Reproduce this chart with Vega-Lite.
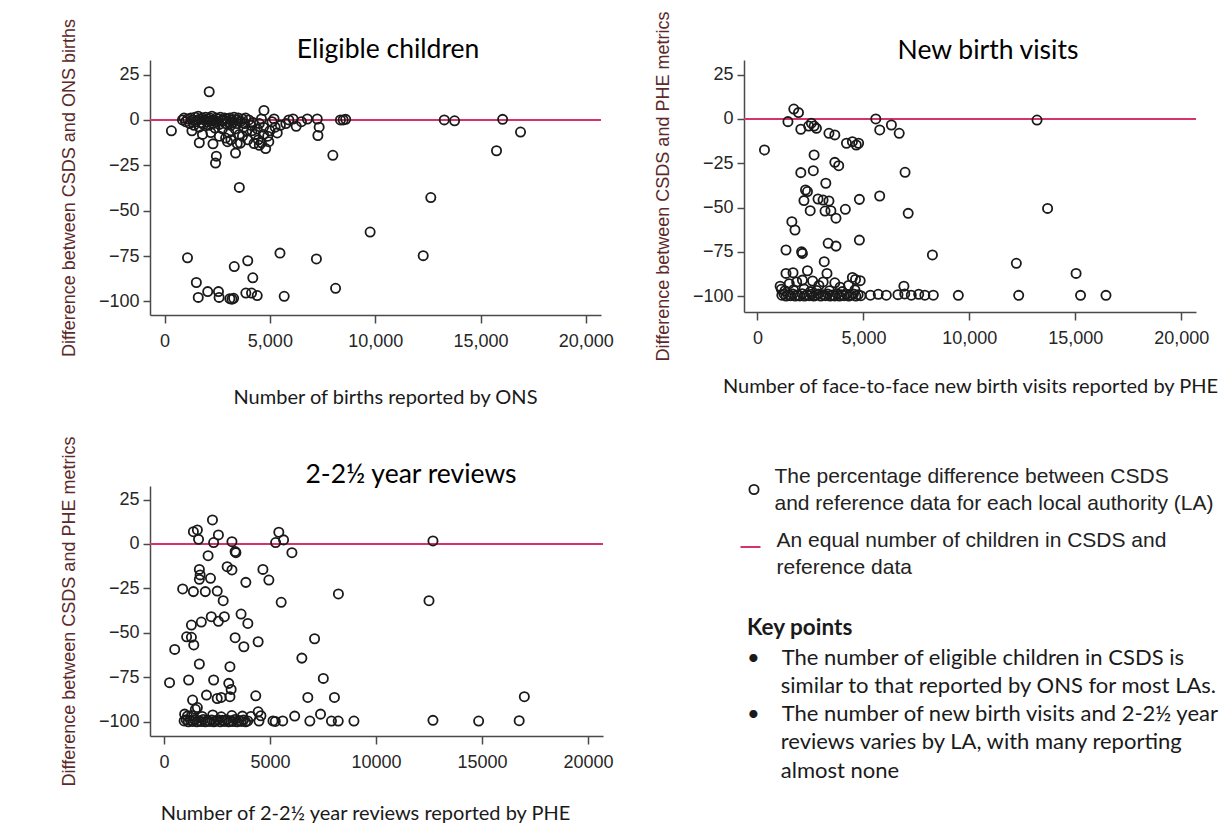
{
  "$schema": "https://vega.github.io/schema/vega-lite/v6.json",
  "background": "white",
  "padding": {"left": 60, "top": 11, "right": 0, "bottom": 0},
  "columns": 2,
  "spacing": {"column": 141, "row": 171},
  "bounds": "flush",
  "config": {
    "view": {"stroke": null},
    "style": {"guide-label": {"lineHeight": 27}},
    "axis": {"grid": false, "domainColor": "#4a4a4a", "domainWidth": 1.5, "tickColor": "#4a4a4a", "tickWidth": 1.5, "labelFont": "Liberation Sans", "labelFontSize": 18, "labelColor": "#262626"},
    "axisX": {"tickSize": 8, "labelPadding": 9, "titleFont": "Lato", "titleFontSize": 20, "titleFontWeight": "normal", "titleColor": "#1a1a1a", "titlePadding": 37},
    "axisY": {"tickSize": 7, "labelPadding": 4, "titleFont": "Liberation Sans", "titleFontSize": 18, "titleFontWeight": "normal", "titleColor": "#5c2a2a", "titlePadding": 20},
    "title": {"font": "Lato", "fontSize": 26.5, "fontWeight": "normal", "color": "#000000", "frame": "group"}
  },
  "datasets": {
    "eligible": [
      {"births": 326, "diff": -6}, {"births": 2120, "diff": 15.5}, {"births": 925, "diff": 1}, {"births": 1650, "diff": -12.6}, {"births": 2300, "diff": -13.2}, {"births": 2460, "diff": -20}, {"births": 2420, "diff": -23.8}, {"births": 2990, "diff": -12}, {"births": 3370, "diff": -18.3}, {"births": 3550, "diff": -37.2}, {"births": 3600, "diff": -12.8}, {"births": 4720, "diff": 5.2}, {"births": 4800, "diff": -15.8}, {"births": 4450, "diff": -11}, {"births": 4600, "diff": -12.6}, {"births": 5350, "diff": -7.2}, {"births": 5760, "diff": -2}, {"births": 6250, "diff": -3.5}, {"births": 6780, "diff": 0.5}, {"births": 7250, "diff": 0.5}, {"births": 7340, "diff": -4}, {"births": 7280, "diff": -8.6}, {"births": 7990, "diff": -19.5}, {"births": 8350, "diff": 0}, {"births": 8480, "diff": 0}, {"births": 8600, "diff": 0.3}, {"births": 9760, "diff": -61.8}, {"births": 12640, "diff": -42.8}, {"births": 12280, "diff": -74.8}, {"births": 13280, "diff": 0}, {"births": 13770, "diff": -0.5}, {"births": 16050, "diff": 0.3}, {"births": 15760, "diff": -17}, {"births": 16900, "diff": -6.7},
      {"births": 1090, "diff": -76}, {"births": 1510, "diff": -89.6}, {"births": 1600, "diff": -97.8}, {"births": 2050, "diff": -94.6}, {"births": 2560, "diff": -94.6}, {"births": 2590, "diff": -97.8}, {"births": 3100, "diff": -98.5}, {"births": 3200, "diff": -98.8}, {"births": 3280, "diff": -98.3}, {"births": 3310, "diff": -80.8}, {"births": 3950, "diff": -77.6}, {"births": 3860, "diff": -95.4}, {"births": 4130, "diff": -95.4}, {"births": 4190, "diff": -87}, {"births": 4400, "diff": -96.8}, {"births": 5480, "diff": -73.4}, {"births": 5680, "diff": -97.2}, {"births": 7210, "diff": -76.6}, {"births": 8120, "diff": -92.8},
      {"births": 850, "diff": 0}, {"births": 1000, "diff": -1}, {"births": 1100, "diff": 0.5}, {"births": 1200, "diff": -2}, {"births": 1250, "diff": 1}, {"births": 1350, "diff": 0}, {"births": 1400, "diff": -3}, {"births": 1450, "diff": 1.5}, {"births": 1500, "diff": -1}, {"births": 1550, "diff": 0}, {"births": 1600, "diff": 2}, {"births": 1650, "diff": -4}, {"births": 1700, "diff": 0.5}, {"births": 1750, "diff": -1.5}, {"births": 1800, "diff": 1}, {"births": 1850, "diff": -2.5}, {"births": 1900, "diff": 0}, {"births": 1950, "diff": 1.5}, {"births": 2000, "diff": -1}, {"births": 2050, "diff": 0.5}, {"births": 2100, "diff": -3}, {"births": 2150, "diff": 1}, {"births": 2200, "diff": -0.5}, {"births": 2250, "diff": 2}, {"births": 2300, "diff": -2}, {"births": 2350, "diff": 0}, {"births": 2400, "diff": -4.5}, {"births": 2450, "diff": 1}, {"births": 2500, "diff": -1}, {"births": 2550, "diff": 0.5}, {"births": 2600, "diff": -2.5}, {"births": 2650, "diff": 1.5}, {"births": 2700, "diff": -0.5}, {"births": 2750, "diff": -5}, {"births": 2800, "diff": 0}, {"births": 2850, "diff": 1}, {"births": 2900, "diff": -2}, {"births": 2950, "diff": 0.5}, {"births": 3000, "diff": -1}, {"births": 3050, "diff": -7}, {"births": 3100, "diff": 1}, {"births": 3150, "diff": -3}, {"births": 3200, "diff": 0}, {"births": 3250, "diff": -1.5}, {"births": 3300, "diff": 1.5}, {"births": 3350, "diff": -5}, {"births": 3400, "diff": 0}, {"births": 3450, "diff": -2}, {"births": 3500, "diff": 1}, {"births": 3550, "diff": -8}, {"births": 3600, "diff": -1}, {"births": 3700, "diff": 0.5}, {"births": 3750, "diff": -4}, {"births": 3800, "diff": -2}, {"births": 3850, "diff": 1}, {"births": 3900, "diff": -6}, {"births": 4000, "diff": 0}, {"births": 4100, "diff": -3}, {"births": 4200, "diff": -1.5}, {"births": 4300, "diff": -8}, {"births": 4400, "diff": -5}, {"births": 4500, "diff": -2}, {"births": 4600, "diff": 0.5}, {"births": 4700, "diff": -4}, {"births": 4900, "diff": -9}, {"births": 5000, "diff": -6}, {"births": 5100, "diff": -1}, {"births": 5200, "diff": 0.5}, {"births": 5500, "diff": -3}, {"births": 5900, "diff": 0}, {"births": 6100, "diff": 0.5}, {"births": 6500, "diff": -1}, {"births": 1300, "diff": -6}, {"births": 1800, "diff": -8}, {"births": 2200, "diff": -7}, {"births": 2600, "diff": -9}, {"births": 2900, "diff": -10}, {"births": 3150, "diff": -11}, {"births": 3450, "diff": -13}, {"births": 3700, "diff": -9}, {"births": 3950, "diff": -11}, {"births": 4150, "diff": -6}, {"births": 4250, "diff": -13}, {"births": 4500, "diff": -14}, {"births": 4700, "diff": -8}, {"births": 4950, "diff": -12}, {"births": 5250, "diff": -4}
    ],
    "newbirth": [
      {"visits": 330, "diff": -17.5}, {"visits": 1714, "diff": 5.6}, {"visits": 1935, "diff": 3.6}, {"visits": 1437, "diff": -1.5}, {"visits": 2045, "diff": -5.8}, {"visits": 2543, "diff": -2.4}, {"visits": 2672, "diff": -4}, {"visits": 2783, "diff": -5.3}, {"visits": 2414, "diff": -4}, {"visits": 3372, "diff": -8.1}, {"visits": 3650, "diff": -9}, {"visits": 4200, "diff": -13.7}, {"visits": 4480, "diff": -12.8}, {"visits": 4663, "diff": -14.7}, {"visits": 4773, "diff": -13.7}, {"visits": 5584, "diff": 0}, {"visits": 5770, "diff": -6.2}, {"visits": 6321, "diff": -3.4}, {"visits": 6690, "diff": -8.1}, {"visits": 13196, "diff": -0.6}, {"visits": 2672, "diff": -20.3}, {"visits": 3650, "diff": -24.5}, {"visits": 3834, "diff": -26.4}, {"visits": 2045, "diff": -30.3}, {"visits": 2635, "diff": -29.2}, {"visits": 3225, "diff": -36.3}, {"visits": 6966, "diff": -30.1}, {"visits": 2267, "diff": -40.1}, {"visits": 2359, "diff": -41}, {"visits": 2193, "diff": -46.1}, {"visits": 2488, "diff": -51.8}, {"visits": 2857, "diff": -45.2}, {"visits": 3096, "diff": -45.8}, {"visits": 3372, "diff": -46.3}, {"visits": 3465, "diff": -51.8}, {"visits": 3188, "diff": -52}, {"visits": 3705, "diff": -56}, {"visits": 4147, "diff": -51}, {"visits": 4810, "diff": -45.4}, {"visits": 5768, "diff": -43.5}, {"visits": 7114, "diff": -53.3}, {"visits": 13694, "diff": -50.5}, {"visits": 1622, "diff": -58}, {"visits": 1769, "diff": -62.7}, {"visits": 4810, "diff": -68.4}, {"visits": 1345, "diff": -74}, {"visits": 2082, "diff": -75}, {"visits": 2119, "diff": -75.9}, {"visits": 3336, "diff": -70.2}, {"visits": 3705, "diff": -71.8}, {"visits": 3151, "diff": -80.6}, {"visits": 8257, "diff": -76.8}, {"visits": 12219, "diff": -81.5}, {"visits": 15039, "diff": -87.2},
      {"visits": 1345, "diff": -87.2}, {"visits": 1677, "diff": -86.8}, {"visits": 2359, "diff": -85.7}, {"visits": 2119, "diff": -91}, {"visits": 3280, "diff": -87.2}, {"visits": 3650, "diff": -92.5}, {"visits": 4480, "diff": -89.5}, {"visits": 4627, "diff": -90.6}, {"visits": 4847, "diff": -91.3}, {"visits": 1069, "diff": -94.4}, {"visits": 1124, "diff": -96.2}, {"visits": 6911, "diff": -94.4}, {"visits": 1500, "diff": -93}, {"visits": 1850, "diff": -92}, {"visits": 2600, "diff": -91.5}, {"visits": 2900, "diff": -94}, {"visits": 3100, "diff": -92}, {"visits": 3900, "diff": -95}, {"visits": 4300, "diff": -94}, {"visits": 1300, "diff": -97}, {"visits": 1700, "diff": -96.5}, {"visits": 2200, "diff": -96}, {"visits": 2500, "diff": -97.5}, {"visits": 2800, "diff": -96.8}, {"visits": 3400, "diff": -97}, {"visits": 4000, "diff": -97.5}, {"visits": 4600, "diff": -96.5},
      {"visits": 1150, "diff": -99.5}, {"visits": 1250, "diff": -98.8}, {"visits": 1350, "diff": -100}, {"visits": 1450, "diff": -99.2}, {"visits": 1560, "diff": -99.8}, {"visits": 1670, "diff": -98.9}, {"visits": 1780, "diff": -100}, {"visits": 1890, "diff": -99.4}, {"visits": 2000, "diff": -99.9}, {"visits": 2110, "diff": -98.7}, {"visits": 2220, "diff": -100}, {"visits": 2330, "diff": -99.3}, {"visits": 2440, "diff": -99.8}, {"visits": 2550, "diff": -99}, {"visits": 2660, "diff": -100}, {"visits": 2770, "diff": -99.5}, {"visits": 2880, "diff": -98.8}, {"visits": 2990, "diff": -100}, {"visits": 3100, "diff": -99.2}, {"visits": 3210, "diff": -99.8}, {"visits": 3320, "diff": -98.9}, {"visits": 3430, "diff": -100}, {"visits": 3540, "diff": -99.4}, {"visits": 3650, "diff": -99.9}, {"visits": 3760, "diff": -98.7}, {"visits": 3870, "diff": -100}, {"visits": 3980, "diff": -99.3}, {"visits": 4090, "diff": -99.8}, {"visits": 4200, "diff": -99}, {"visits": 4310, "diff": -100}, {"visits": 4420, "diff": -99.5}, {"visits": 4530, "diff": -98.8}, {"visits": 4640, "diff": -100}, {"visits": 4750, "diff": -99.2}, {"visits": 4880, "diff": -99.8},
      {"visits": 5330, "diff": -99.5}, {"visits": 5700, "diff": -99}, {"visits": 6080, "diff": -99.5}, {"visits": 6630, "diff": -99.2}, {"visits": 6950, "diff": -98.8}, {"visits": 7260, "diff": -99.5}, {"visits": 7610, "diff": -99}, {"visits": 7900, "diff": -99.5}, {"visits": 8300, "diff": -99.5}, {"visits": 9480, "diff": -99.6}, {"visits": 12330, "diff": -99.6}, {"visits": 15250, "diff": -99.6}, {"visits": 16450, "diff": -99.6}
    ],
    "reviews": [
      {"reviews": 2286, "diff": 13.5}, {"reviews": 1387, "diff": 6.9}, {"reviews": 1574, "diff": 7.9}, {"reviews": 1630, "diff": 2.6}, {"reviews": 2567, "diff": 5.1}, {"reviews": 2342, "diff": 0.8}, {"reviews": 3205, "diff": 1.3}, {"reviews": 3355, "diff": -4.3}, {"reviews": 3392, "diff": -4.9}, {"reviews": 2080, "diff": -6.6}, {"reviews": 5416, "diff": 6.6}, {"reviews": 5266, "diff": 0.8}, {"reviews": 5641, "diff": 2.3}, {"reviews": 6034, "diff": -4.9}, {"reviews": 12687, "diff": 1.7}, {"reviews": 1668, "diff": -14.3}, {"reviews": 1705, "diff": -17.4}, {"reviews": 1668, "diff": -19.9}, {"reviews": 2193, "diff": -19.3}, {"reviews": 2980, "diff": -12.8}, {"reviews": 3205, "diff": -14.6}, {"reviews": 3861, "diff": -21.6}, {"reviews": 4666, "diff": -14.3}, {"reviews": 4947, "diff": -20.3}, {"reviews": 881, "diff": -25.3}, {"reviews": 1387, "diff": -26.8}, {"reviews": 1949, "diff": -26.8}, {"reviews": 2511, "diff": -26.5}, {"reviews": 2792, "diff": -31.9}, {"reviews": 5528, "diff": -32.8}, {"reviews": 8227, "diff": -28.1}, {"reviews": 12500, "diff": -31.9}, {"reviews": 1293, "diff": -45.6}, {"reviews": 1761, "diff": -43.9}, {"reviews": 2230, "diff": -40.9}, {"reviews": 2567, "diff": -43.5}, {"reviews": 2848, "diff": -40.9}, {"reviews": 3636, "diff": -39.4}, {"reviews": 3955, "diff": -44.7}, {"reviews": 1068, "diff": -52.2}, {"reviews": 1293, "diff": -52.5}, {"reviews": 1405, "diff": -56.8}, {"reviews": 3355, "diff": -52.7}, {"reviews": 3767, "diff": -57.8}, {"reviews": 4441, "diff": -55}, {"reviews": 506, "diff": -59.3}, {"reviews": 7103, "diff": -53.3}, {"reviews": 6503, "diff": -64.2}, {"reviews": 1668, "diff": -67.5}, {"reviews": 3111, "diff": -69}, {"reviews": 262, "diff": -78}, {"reviews": 1162, "diff": -76.5}, {"reviews": 2342, "diff": -76.5}, {"reviews": 3055, "diff": -78.4}, {"reviews": 3167, "diff": -81.8}, {"reviews": 3111, "diff": -85.9}, {"reviews": 7515, "diff": -75.6}, {"reviews": 1349, "diff": -87.8}, {"reviews": 2005, "diff": -85}, {"reviews": 2511, "diff": -86.9}, {"reviews": 2699, "diff": -86.3}, {"reviews": 4329, "diff": -85.4}, {"reviews": 6784, "diff": -86.3}, {"reviews": 8040, "diff": -86.3}, {"reviews": 16997, "diff": -85.9}, {"reviews": 1574, "diff": -92}, {"reviews": 1480, "diff": -93}, {"reviews": 974, "diff": -95.7}, {"reviews": 1105, "diff": -96.8}, {"reviews": 6165, "diff": -96.8}, {"reviews": 7384, "diff": -95.7}, {"reviews": 4441, "diff": -94.4}, {"reviews": 4573, "diff": -96.6},
      {"reviews": 1300, "diff": -96.5}, {"reviews": 1800, "diff": -97}, {"reviews": 2300, "diff": -96.2}, {"reviews": 2700, "diff": -97.2}, {"reviews": 3200, "diff": -96.5}, {"reviews": 3700, "diff": -96.8}, {"reviews": 4100, "diff": -97},
      {"reviews": 950, "diff": -99.5}, {"reviews": 1050, "diff": -98.8}, {"reviews": 1150, "diff": -100}, {"reviews": 1250, "diff": -99.2}, {"reviews": 1350, "diff": -99.8}, {"reviews": 1450, "diff": -98.9}, {"reviews": 1550, "diff": -100}, {"reviews": 1650, "diff": -99.4}, {"reviews": 1750, "diff": -99.9}, {"reviews": 1850, "diff": -98.7}, {"reviews": 1950, "diff": -100}, {"reviews": 2050, "diff": -99.3}, {"reviews": 2150, "diff": -99.8}, {"reviews": 2250, "diff": -99}, {"reviews": 2350, "diff": -100}, {"reviews": 2450, "diff": -99.5}, {"reviews": 2550, "diff": -98.8}, {"reviews": 2650, "diff": -100}, {"reviews": 2750, "diff": -99.2}, {"reviews": 2850, "diff": -99.8}, {"reviews": 2950, "diff": -98.9}, {"reviews": 3050, "diff": -100}, {"reviews": 3150, "diff": -99.4}, {"reviews": 3250, "diff": -99.9}, {"reviews": 3350, "diff": -98.7}, {"reviews": 3450, "diff": -100}, {"reviews": 3550, "diff": -99.3}, {"reviews": 3650, "diff": -99.8}, {"reviews": 3750, "diff": -99}, {"reviews": 3850, "diff": -100}, {"reviews": 3950, "diff": -99.5}, {"reviews": 4480, "diff": -99.6}, {"reviews": 5140, "diff": -99.5}, {"reviews": 5250, "diff": -99.8}, {"reviews": 5600, "diff": -99.5}, {"reviews": 6880, "diff": -99.6}, {"reviews": 7900, "diff": -99.6}, {"reviews": 8220, "diff": -99.6}, {"reviews": 8960, "diff": -99.6}, {"reviews": 12687, "diff": -99.2}, {"reviews": 14842, "diff": -99.6}, {"reviews": 16754, "diff": -99.4}
    ]
  },
  "concat": [
    {
      "width": 451, "height": 255,
      "title": {"text": "Eligible children", "dx": 12.5, "offset": -45},
      "data": {"name": "eligible"},
      "layer": [
        {"mark": {"type": "rule", "color": "#d6336c", "strokeWidth": 2}, "encoding": {"y": {"datum": 0, "type": "quantitative"}}},
        {"mark": {"type": "point", "shape": "circle", "filled": false, "size": 85, "strokeWidth": 1.8, "color": "#1a1a1a", "opacity": 1},
         "encoding": {
           "x": {"field": "births", "type": "quantitative", "scale": {"domain": [-690, 20720], "nice": false, "zero": false}, "axis": {"title": "Number of births reported by ONS", "values": [0, 5000, 10000, 15000, 20000], "format": ",d", "titleX": 235}},
           "y": {"field": "diff", "type": "quantitative", "scale": {"domain": [-107.5, 33], "nice": false, "zero": false}, "axis": {"title": "Difference between CSDS and ONS births", "values": [25, 0, -25, -50, -75, -100]}}
         }}
      ]
    },
    {
      "width": 452, "height": 252,
      "title": {"text": "New birth visits", "dx": 18, "offset": -53},
      "data": {"name": "newbirth"},
      "layer": [
        {"mark": {"type": "rule", "color": "#d6336c", "strokeWidth": 2}, "encoding": {"y": {"datum": 0, "type": "quantitative"}}},
        {"mark": {"type": "point", "shape": "circle", "filled": false, "size": 85, "strokeWidth": 1.8, "color": "#1a1a1a", "opacity": 1},
         "encoding": {
           "x": {"field": "visits", "type": "quantitative", "scale": {"domain": [-637, 20700], "nice": false, "zero": false}, "axis": {"title": "Number of face-to-face new birth visits reported by PHE", "values": [0, 5000, 10000, 15000, 20000], "format": ",d", "titlePadding": 29}},
           "y": {"field": "diff", "type": "quantitative", "scale": {"domain": [-109, 33.3], "nice": false, "zero": false}, "axis": {"title": "Difference between CSDS and PHE metrics", "values": [25, 0, -25, -50, -75, -100]}}
         }}
      ]
    },
    {
      "width": 453, "height": 250,
      "title": {"text": "2-2½ year reviews", "dx": 34.5, "offset": -52.5},
      "data": {"name": "reviews"},
      "layer": [
        {"mark": {"type": "rule", "strokeWidth": 2},
         "encoding": {
           "y": {"datum": 0, "type": "quantitative"},
           "stroke": {"datum": "An equal number of children in CSDS and|reference data", "type": "nominal", "scale": {"range": ["#d6336c"]},
             "legend": {"orient": "none", "legendX": 589.5, "legendY": 476, "title": null, "symbolType": "stroke", "symbolSize": 400, "symbolStrokeWidth": 2, "labelExpr": "split(datum.label, '|')", "labelFont": "Liberation Sans", "labelFontSize": 21, "labelColor": "#222222", "labelLimit": 700, "labelOffset": 15, "labelBaseline": "alphabetic", "padding": 0}}
         }},
        {"mark": {"type": "point", "filled": false, "size": 85, "strokeWidth": 1.8, "color": "#1a1a1a", "opacity": 1},
         "encoding": {
           "x": {"field": "reviews", "type": "quantitative", "scale": {"domain": [-660, 20708], "nice": false, "zero": false}, "axis": {"title": "Number of 2-2½ year reviews reported by PHE", "values": [0, 5000, 10000, 15000, 20000], "format": "d", "titleX": 215, "titlePadding": 32}},
           "y": {"field": "diff", "type": "quantitative", "scale": {"domain": [-108, 32.6], "nice": false, "zero": false}, "axis": {"title": "Difference between CSDS and PHE metrics", "values": [25, 0, -25, -50, -75, -100]}},
           "shape": {"datum": "The percentage difference between CSDS|and reference data for each local authority (LA)", "type": "nominal", "scale": {"range": ["circle"]},
             "legend": {"orient": "none", "legendX": 593.5, "legendY": 419, "title": null, "labelExpr": "split(datum.label, '|')", "labelFont": "Liberation Sans", "labelFontSize": 21, "labelColor": "#222222", "labelLimit": 700, "labelOffset": 10, "labelBaseline": "line-bottom", "symbolSize": 85, "symbolStrokeWidth": 1.8, "symbolStrokeColor": "#1a1a1a", "symbolFillColor": "transparent", "padding": 0}}
         }}
      ]
    },
    {
      "width": 452, "height": 100,
      "data": {"values": []},
      "mark": "point",
      "title": {
        "text": "Key points",
        "subtitle": [
          "•\u00a0\u00a0\u00a0\u00a0The number of eligible children in CSDS is",
          "\u200b\u00a0\u00a0\u00a0\u00a0\u00a0\u00a0similar to that reported by ONS for most LAs.",
          "•\u00a0\u00a0\u00a0\u00a0The number of new birth visits and 2-2½ year",
          "\u200b\u00a0\u00a0\u00a0\u00a0\u00a0\u00a0reviews varies by LA, with many reporting",
          "\u200b\u00a0\u00a0\u00a0\u00a0\u00a0\u00a0almost none"
        ],
        "orient": "bottom", "anchor": "start", "dx": 3, "offset": 31,
        "font": "Lato", "fontWeight": "bold", "fontSize": 22.5, "color": "#1a1a1a",
        "subtitleFont": "Lato", "subtitleFontSize": 22, "subtitleColor": "#1a1a1a", "subtitleLineHeight": 28.3, "subtitlePadding": 8
      }
    }
  ]
}
